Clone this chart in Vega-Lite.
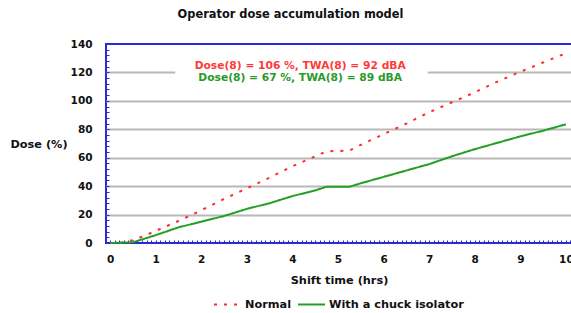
{
  "$schema": "https://vega.github.io/schema/vega-lite/v6.json",
  "autosize": "none",
  "width": 469,
  "height": 199,
  "padding": {"left": 106, "top": 44, "right": 0, "bottom": 70},
  "background": "white",
  "title": {"text": "Operator dose accumulation model", "anchor": "middle", "frame": "group", "dx": -50, "offset": 8, "baseline": "bottom", "font": "DejaVu Sans", "fontSize": 11.4, "fontWeight": "bold", "color": "#111"},
  "config": {
    "view": {"stroke": "#2a2ad6", "strokeWidth": 2},
    "font": "DejaVu Sans",
    "axis": {
      "labelOverlap": false, "labelFlush": false, "domain": false,
      "tickSize": -3, "tickColor": "#2a2ad6", "tickWidth": 1,
      "labelFont": "DejaVu Sans", "labelFontSize": 10.5, "labelFontWeight": "bold", "labelColor": "#111",
      "titleFont": "DejaVu Sans", "titleFontSize": 11.3, "titleFontWeight": "bold", "titleColor": "#111",
      "titleAlign": "center", "titleBaseline": "middle", "titleAngle": 0
    },
    "axisX": {"labelPadding": 14, "grid": false, "titleX": 233, "titleY": 37},
    "axisY": {"labelPadding": 17, "grid": true, "gridWidth": 2, "titleX": -67.5, "titleY": 100}
  },
  "datasets": {
    "curves": [
      {"t": 0, "dose": 0, "series": "Normal"},
      {"t": 0.25, "dose": 0.3, "series": "Normal"},
      {"t": 0.5, "dose": 2, "series": "Normal"},
      {"t": 0.75, "dose": 5, "series": "Normal"},
      {"t": 1, "dose": 8.5, "series": "Normal"},
      {"t": 1.5, "dose": 15.5, "series": "Normal"},
      {"t": 2, "dose": 23, "series": "Normal"},
      {"t": 2.5, "dose": 31, "series": "Normal"},
      {"t": 3, "dose": 38.5, "series": "Normal"},
      {"t": 3.5, "dose": 46, "series": "Normal"},
      {"t": 4, "dose": 54, "series": "Normal"},
      {"t": 4.5, "dose": 61, "series": "Normal"},
      {"t": 4.75, "dose": 64.5, "series": "Normal"},
      {"t": 5.25, "dose": 65, "series": "Normal"},
      {"t": 5.5, "dose": 69, "series": "Normal"},
      {"t": 6, "dose": 76.5, "series": "Normal"},
      {"t": 6.5, "dose": 84, "series": "Normal"},
      {"t": 7, "dose": 92, "series": "Normal"},
      {"t": 7.5, "dose": 99, "series": "Normal"},
      {"t": 8, "dose": 106, "series": "Normal"},
      {"t": 8.5, "dose": 113.5, "series": "Normal"},
      {"t": 9, "dose": 120.5, "series": "Normal"},
      {"t": 9.5, "dose": 127, "series": "Normal"},
      {"t": 10, "dose": 133.5, "series": "Normal"},
      {"t": 0, "dose": 0, "series": "With a chuck isolator"},
      {"t": 0.5, "dose": 0.5, "series": "With a chuck isolator"},
      {"t": 1, "dose": 5.5, "series": "With a chuck isolator"},
      {"t": 1.5, "dose": 11, "series": "With a chuck isolator"},
      {"t": 2, "dose": 15, "series": "With a chuck isolator"},
      {"t": 2.5, "dose": 19, "series": "With a chuck isolator"},
      {"t": 3, "dose": 24, "series": "With a chuck isolator"},
      {"t": 3.5, "dose": 28, "series": "With a chuck isolator"},
      {"t": 4, "dose": 33, "series": "With a chuck isolator"},
      {"t": 4.5, "dose": 37, "series": "With a chuck isolator"},
      {"t": 4.75, "dose": 39.6, "series": "With a chuck isolator"},
      {"t": 5.25, "dose": 39.6, "series": "With a chuck isolator"},
      {"t": 5.5, "dose": 42, "series": "With a chuck isolator"},
      {"t": 6, "dose": 46.5, "series": "With a chuck isolator"},
      {"t": 6.5, "dose": 51, "series": "With a chuck isolator"},
      {"t": 7, "dose": 55.5, "series": "With a chuck isolator"},
      {"t": 7.5, "dose": 61, "series": "With a chuck isolator"},
      {"t": 8, "dose": 66, "series": "With a chuck isolator"},
      {"t": 8.5, "dose": 70.5, "series": "With a chuck isolator"},
      {"t": 9, "dose": 75, "series": "With a chuck isolator"},
      {"t": 9.5, "dose": 79, "series": "With a chuck isolator"},
      {"t": 10, "dose": 83.5, "series": "With a chuck isolator"}
    ],
    "notes": [
      {"label": "Dose(8) = 106 %, TWA(8) = 92 dBA", "series": "Normal"},
      {"label": "Dose(8) = 67 %, TWA(8) = 89 dBA", "series": "With a chuck isolator"}
    ]
  },
  "layer": [
    {
      "data": {"values": [{}]},
      "mark": {"type": "rect", "fill": "white", "stroke": null},
      "encoding": {
        "x": {"datum": 1.43, "type": "quantitative", "scale": {"domain": [-0.09, 10.2], "nice": false, "zero": false},
          "axis": {
            "values": [0,0.1,0.2,0.3,0.4,0.5,0.6,0.7,0.8,0.9,1,1.1,1.2,1.3,1.4,1.5,1.6,1.7,1.8,1.9,2,2.1,2.2,2.3,2.4,2.5,2.6,2.7,2.8,2.9,3,3.1,3.2,3.3,3.4,3.5,3.6,3.7,3.8,3.9,4,4.1,4.2,4.3,4.4,4.5,4.6,4.7,4.8,4.9,5,5.1,5.2,5.3,5.4,5.5,5.6,5.7,5.8,5.9,6,6.1,6.2,6.3,6.4,6.5,6.6,6.7,6.8,6.9,7,7.1,7.2,7.3,7.4,7.5,7.6,7.7,7.8,7.9,8,8.1,8.2,8.3,8.4,8.5,8.6,8.7,8.8,8.9,9,9.1,9.2,9.3,9.4,9.5,9.6,9.7,9.8,9.9,10,10.1],
            "labelExpr": "abs(datum.value - round(datum.value)) < 0.001 ? format(datum.value, 'd') : ''",
            "title": "Shift time (hrs)"
          }
        },
        "x2": {"datum": 6.97},
        "y": {"datum": 109, "type": "quantitative", "scale": {"domain": [0, 140], "nice": false},
          "axis": {
            "values": [0,4,8,12,16,20,24,28,32,36,40,44,48,52,56,60,64,68,72,76,80,84,88,92,96,100,104,108,112,116,120,124,128,132,136,140],
            "labelExpr": "datum.value % 20 === 0 ? datum.label : ''",
            "gridColor": {"condition": {"test": "datum.value % 20 === 0 && datum.value > 0 && datum.value < 140", "value": "#b8b8b8"}, "value": "transparent"},
            "title": "Dose (%)"
          }
        },
        "y2": {"datum": 130}
      }
    },
    {
      "data": {"name": "curves"},
      "mark": {"type": "line", "strokeWidth": 2},
      "encoding": {
        "x": {"field": "t", "type": "quantitative", "scale": {"domain": [-0.09, 10.2], "nice": false, "zero": false},
          "axis": {
            "values": [0,0.1,0.2,0.3,0.4,0.5,0.6,0.7,0.8,0.9,1,1.1,1.2,1.3,1.4,1.5,1.6,1.7,1.8,1.9,2,2.1,2.2,2.3,2.4,2.5,2.6,2.7,2.8,2.9,3,3.1,3.2,3.3,3.4,3.5,3.6,3.7,3.8,3.9,4,4.1,4.2,4.3,4.4,4.5,4.6,4.7,4.8,4.9,5,5.1,5.2,5.3,5.4,5.5,5.6,5.7,5.8,5.9,6,6.1,6.2,6.3,6.4,6.5,6.6,6.7,6.8,6.9,7,7.1,7.2,7.3,7.4,7.5,7.6,7.7,7.8,7.9,8,8.1,8.2,8.3,8.4,8.5,8.6,8.7,8.8,8.9,9,9.1,9.2,9.3,9.4,9.5,9.6,9.7,9.8,9.9,10,10.1],
            "labelExpr": "abs(datum.value - round(datum.value)) < 0.001 ? format(datum.value, 'd') : ''",
            "title": "Shift time (hrs)"
          }
        },
        "y": {"field": "dose", "type": "quantitative", "scale": {"domain": [0, 140], "nice": false},
          "axis": {
            "values": [0,4,8,12,16,20,24,28,32,36,40,44,48,52,56,60,64,68,72,76,80,84,88,92,96,100,104,108,112,116,120,124,128,132,136,140],
            "labelExpr": "datum.value % 20 === 0 ? datum.label : ''",
            "gridColor": {"condition": {"test": "datum.value % 20 === 0 && datum.value > 0 && datum.value < 140", "value": "#b8b8b8"}, "value": "transparent"},
            "title": "Dose (%)"
          }
        },
        "color": {"field": "series", "type": "nominal",
          "scale": {"domain": ["Normal", "With a chuck isolator"], "range": ["#ff2a2a", "#22a022"]},
          "legend": {"title": null, "orient": "none", "legendX": 107, "legendY": 246, "direction": "horizontal",
            "symbolType": "stroke", "symbolSize": 729, "symbolStrokeWidth": 2, "labelOffset": 3, "columnPadding": 2,
            "labelFont": "DejaVu Sans", "labelFontSize": 11.3, "labelFontWeight": "bold", "labelColor": "#111"}
        },
        "strokeDash": {"field": "series", "type": "nominal",
          "scale": {"domain": ["Normal", "With a chuck isolator"], "range": [[3, 7], [1, 0]]},
          "legend": {"title": null, "orient": "none", "legendX": 107, "legendY": 246, "direction": "horizontal",
            "symbolType": "stroke", "symbolSize": 729, "symbolStrokeWidth": 2, "labelOffset": 3, "columnPadding": 2,
            "labelFont": "DejaVu Sans", "labelFontSize": 11.3, "labelFontWeight": "bold", "labelColor": "#111"}
        }
      }
    },
    {
      "data": {"name": "notes"},
      "transform": [{"filter": "datum.series === 'Normal'"}],
      "mark": {"type": "text", "font": "DejaVu Sans", "fontSize": 10.7, "fontWeight": "bold", "align": "center", "baseline": "middle", "color": "#ff3a3a"},
      "encoding": {
        "x": {"datum": 4.17, "type": "quantitative", "scale": {"domain": [-0.09, 10.2], "nice": false, "zero": false},
          "axis": {
            "values": [0,0.1,0.2,0.3,0.4,0.5,0.6,0.7,0.8,0.9,1,1.1,1.2,1.3,1.4,1.5,1.6,1.7,1.8,1.9,2,2.1,2.2,2.3,2.4,2.5,2.6,2.7,2.8,2.9,3,3.1,3.2,3.3,3.4,3.5,3.6,3.7,3.8,3.9,4,4.1,4.2,4.3,4.4,4.5,4.6,4.7,4.8,4.9,5,5.1,5.2,5.3,5.4,5.5,5.6,5.7,5.8,5.9,6,6.1,6.2,6.3,6.4,6.5,6.6,6.7,6.8,6.9,7,7.1,7.2,7.3,7.4,7.5,7.6,7.7,7.8,7.9,8,8.1,8.2,8.3,8.4,8.5,8.6,8.7,8.8,8.9,9,9.1,9.2,9.3,9.4,9.5,9.6,9.7,9.8,9.9,10,10.1],
            "labelExpr": "abs(datum.value - round(datum.value)) < 0.001 ? format(datum.value, 'd') : ''",
            "title": "Shift time (hrs)"
          }
        },
        "y": {"datum": 124.2, "type": "quantitative", "scale": {"domain": [0, 140], "nice": false},
          "axis": {
            "values": [0,4,8,12,16,20,24,28,32,36,40,44,48,52,56,60,64,68,72,76,80,84,88,92,96,100,104,108,112,116,120,124,128,132,136,140],
            "labelExpr": "datum.value % 20 === 0 ? datum.label : ''",
            "gridColor": {"condition": {"test": "datum.value % 20 === 0 && datum.value > 0 && datum.value < 140", "value": "#b8b8b8"}, "value": "transparent"},
            "title": "Dose (%)"
          }
        },
        "text": {"field": "label"}
      }
    },
    {
      "data": {"name": "notes"},
      "transform": [{"filter": "datum.series !== 'Normal'"}],
      "mark": {"type": "text", "font": "DejaVu Sans", "fontSize": 10.7, "fontWeight": "bold", "align": "center", "baseline": "middle", "color": "#2a9a2a"},
      "encoding": {
        "x": {"datum": 4.17, "type": "quantitative", "scale": {"domain": [-0.09, 10.2], "nice": false, "zero": false},
          "axis": {
            "values": [0,0.1,0.2,0.3,0.4,0.5,0.6,0.7,0.8,0.9,1,1.1,1.2,1.3,1.4,1.5,1.6,1.7,1.8,1.9,2,2.1,2.2,2.3,2.4,2.5,2.6,2.7,2.8,2.9,3,3.1,3.2,3.3,3.4,3.5,3.6,3.7,3.8,3.9,4,4.1,4.2,4.3,4.4,4.5,4.6,4.7,4.8,4.9,5,5.1,5.2,5.3,5.4,5.5,5.6,5.7,5.8,5.9,6,6.1,6.2,6.3,6.4,6.5,6.6,6.7,6.8,6.9,7,7.1,7.2,7.3,7.4,7.5,7.6,7.7,7.8,7.9,8,8.1,8.2,8.3,8.4,8.5,8.6,8.7,8.8,8.9,9,9.1,9.2,9.3,9.4,9.5,9.6,9.7,9.8,9.9,10,10.1],
            "labelExpr": "abs(datum.value - round(datum.value)) < 0.001 ? format(datum.value, 'd') : ''",
            "title": "Shift time (hrs)"
          }
        },
        "y": {"datum": 116, "type": "quantitative", "scale": {"domain": [0, 140], "nice": false},
          "axis": {
            "values": [0,4,8,12,16,20,24,28,32,36,40,44,48,52,56,60,64,68,72,76,80,84,88,92,96,100,104,108,112,116,120,124,128,132,136,140],
            "labelExpr": "datum.value % 20 === 0 ? datum.label : ''",
            "gridColor": {"condition": {"test": "datum.value % 20 === 0 && datum.value > 0 && datum.value < 140", "value": "#b8b8b8"}, "value": "transparent"},
            "title": "Dose (%)"
          }
        },
        "text": {"field": "label"}
      }
    }
  ]
}
